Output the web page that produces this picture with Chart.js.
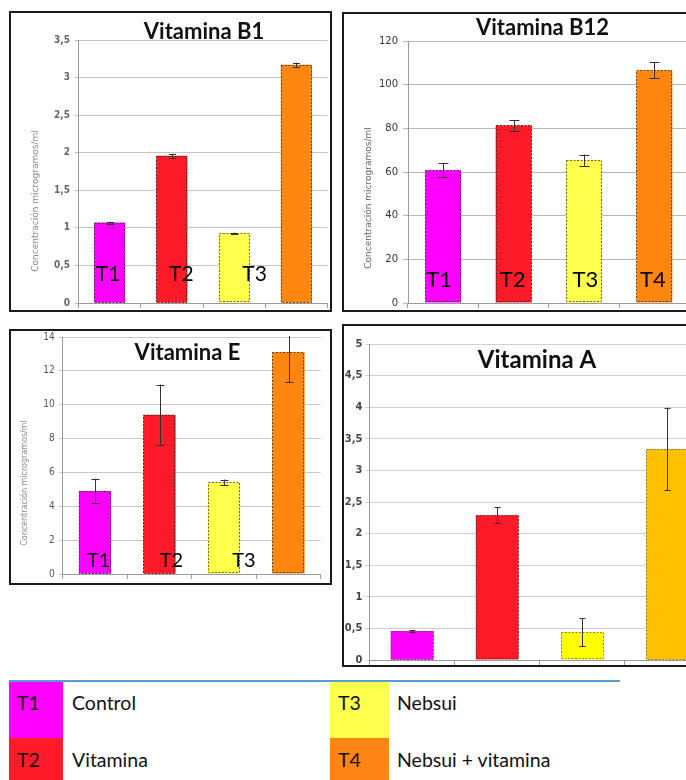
<!DOCTYPE html>
<html>
<head>
<meta charset="utf-8">
<title>Vitaminas por tratamiento</title>
<script src="https://cdn.jsdelivr.net/npm/chart.js@4.4.1/dist/chart.umd.min.js"></script>
<style>
  html, body { margin: 0; padding: 0; background: #fff; }
  #page { position: relative; width: 686px; height: 780px; overflow: hidden; background: #fff;
          font-family: Lato, "Open Sans", "Noto Sans", sans-serif; color: #111; }
  .panel { position: absolute; box-sizing: border-box; border: 2px solid #1a1a1a; background: #fff; }
  .panel canvas { position: absolute; left: 0; top: 0; }
  #p-b1  { left: 9px;   top: 11px;  width: 323px; height: 301px; }
  #p-b12 { left: 342px; top: 12px;  width: 360px; height: 300px; }
  #p-e   { left: 9px;   top: 329px; width: 323px; height: 256px; }
  #p-a   { left: 342px; top: 324px; width: 380px; height: 343px; }
  .rule { position: absolute; left: 9px; top: 680px; width: 611px; height: 2px; background: #5b9bd5; }
  .swatch { position: absolute; width: 54px; height: 56px; }
  .swatch.wide { width: 59px; }
  .lg-text { position: absolute; font-size: 19.5px; line-height: 22px; white-space: nowrap; color: #111; }
</style>
</head>
<body>
<div id="page">
  <div class="panel" id="p-b1"><canvas id="c-b1" width="319" height="297"></canvas></div>
  <div class="panel" id="p-b12"><canvas id="c-b12" width="350" height="296"></canvas></div>
  <div class="panel" id="p-e"><canvas id="c-e" width="319" height="252"></canvas></div>
  <div class="panel" id="p-a"><canvas id="c-a" width="370" height="339"></canvas></div>
  <div id="legend"></div>
</div>
<script>
// Treatments and their descriptions
const treatments = ['T1', 'T2', 'T3', 'T4'];
const treatmentNames = ['Control', 'Vitamina', 'Nebsui', 'Nebsui + vitamina'];

// Mean concentrations (microgramos/ml) and their error margins
const b1Values  = [1.07, 1.96, 0.93, 3.17];
const b1Errors  = [0.013, 0.027, 0.008, 0.03];
const b12Values = [60.8, 81.3, 65.4, 106.6];
const b12Errors = [3.2, 2.3, 2.6, 3.7];
const eValues   = [4.91, 9.41, 5.42, 13.1];
const eErrors   = [0.72, 1.78, 0.16, 1.78];
const aValues   = [0.46, 2.29, 0.44, 3.34];
const aErrors   = [0.018, 0.125, 0.225, 0.655];

// Axis tick labels (decimal comma)
const b1Ticks  = ['0', '0,5', '1', '1,5', '2', '2,5', '3', '3,5'];
const b12Ticks = ['0', '20', '40', '60', '80', '100', '120'];
const eTicks   = ['0', '2', '4', '6', '8', '10', '12', '14'];
const aTicks   = ['0', '0,5', '1', '1,5', '2', '2,5', '3', '3,5', '4', '4,5', '5'];

// Treatment colours
const treatColors  = ['#ff00ff', '#ff1a2a', '#ffff4d', '#ff860f'];
const aColors      = ['#ff00ff', '#ff1a2a', '#ffff00', '#ffc000'];
const legendColors = ['#ff00ff', '#ff1c28', '#ffff4d', '#ff8514'];

const yTitleText = 'Concentración microgramos/ml';

// Dashed bar outlines, error bars and the texts drawn over each panel
const panelDecor = {
  id: 'panelDecor',
  afterDatasetsDraw(chart, args, o) {
    const ctx = chart.ctx;
    const meta = chart.getDatasetMeta(0);
    const ys = chart.scales.y;
    const area = chart.chartArea;
    const vals = chart.data.datasets[0].data;
    ctx.save();
    ctx.lineWidth = 1;
    ctx.setLineDash([2, 1.5]);
    meta.data.forEach((bar, i) => {
      const p = bar.getProps(['x', 'y', 'base', 'width'], true);
      ctx.strokeStyle = o.outline[i];
      const l = Math.round(p.x - p.width / 2) + 0.5;
      const t = Math.round(p.y) + 0.5;
      ctx.strokeRect(l, t, Math.round(p.width) - 1, Math.round(p.base - p.y) - 1);
    });
    ctx.setLineDash([]);
    ctx.beginPath();
    ctx.rect(area.left, area.top - 1, area.width, area.height + 1);
    ctx.clip();
    ctx.strokeStyle = o.errColor;
    meta.data.forEach((bar, i) => {
      const v = vals[i], e = o.errors[i];
      const hi = ys.getPixelForValue(v + e);
      const lo = ys.getPixelForValue(v - e);
      const x = Math.round(bar.x) + 0.5;
      const c = o.cap / 2;
      ctx.beginPath();
      ctx.moveTo(x, hi);
      ctx.lineTo(x, lo);
      if (hi >= area.top) {
        const yh = Math.round(hi) + 0.5;
        ctx.moveTo(x - c, yh); ctx.lineTo(x + c, yh);
      }
      const yl = Math.round(lo) + 0.5;
      ctx.moveTo(x - c, yl); ctx.lineTo(x + c, yl);
      ctx.stroke();
    });
    ctx.restore();
  },
  afterDraw(chart, args, o) {
    const ctx = chart.ctx;
    const xs = chart.scales.x, ys = chart.scales.y;
    ctx.save();
    // panel title
    ctx.fillStyle = '#111';
    ctx.textAlign = 'center';
    ctx.textBaseline = 'alphabetic';
    ctx.font = o.title.font;
    ctx.fillText(o.title.text, o.title.x, o.title.y);
    // vertical axis title
    if (o.yTitle) {
      ctx.save();
      ctx.translate(o.yTitle.x, o.yTitle.y);
      ctx.rotate(-Math.PI / 2);
      ctx.font = o.yTitle.font;
      ctx.fillStyle = o.yTitle.color;
      ctx.textBaseline = 'middle';
      ctx.fillText(yTitleText, 0, 0);
      ctx.restore();
    }
    // treatment tags on the bars
    if (o.tags) {
      ctx.font = o.tags.font;
      ctx.fillStyle = '#000';
      ctx.textAlign = 'center';
      ctx.textBaseline = 'alphabetic';
      o.tags.dx.forEach((dx, i) => {
        ctx.fillText(treatments[i], xs.getPixelForValue(i) + dx, ys.getPixelForValue(o.tags.at));
      });
    }
    ctx.restore();
  }
};

// Scales keep the exact box they are given; label overhang needs no extra room
function fixBox(sc, w, h) {
  if (w !== null) sc.width = w;
  if (h !== null) sc.height = h;
  sc.paddingTop = 0; sc.paddingBottom = 0;
  sc.paddingLeft = 0; sc.paddingRight = 0;
}

function makePanel(id, s) {
  return new Chart(document.getElementById(id), {
    type: 'bar',
    data: {
      labels: treatments,
      datasets: [{
        data: s.values,
        backgroundColor: s.colors,
        borderWidth: 0,
        barPercentage: s.barPct,
        categoryPercentage: 1
      }]
    },
    options: {
      responsive: false,
      animation: false,
      events: [],
      layout: { padding: { top: s.padTop, right: s.padRight, left: 0, bottom: 0 } },
      plugins: {
        legend: { display: false },
        tooltip: { enabled: false },
        title: { display: false },
        panelDecor: {
          errors: s.errors, cap: s.cap, errColor: '#333',
          outline: s.outline,
          title: s.title, yTitle: s.yTitle, tags: s.tags
        }
      },
      scales: {
        x: {
          ticks: { display: false },
          grid: { offset: true, drawOnChartArea: false, tickLength: 5, color: '#9a9a9a' },
          border: { color: '#9a9a9a' },
          afterFit: sc => fixBox(sc, null, s.xHeight)
        },
        y: {
          min: 0, max: s.max,
          ticks: {
            stepSize: s.step, autoSkip: false,
            callback: v => s.tickLabels[Math.round(v / s.step)],
            font: s.tickFont, color: s.tickColor, padding: s.tickPad
          },
          grid: { color: s.gridColor, tickLength: s.tickLen, lineWidth: 1 },
          border: { color: '#9a9a9a' },
          afterFit: sc => fixBox(sc, s.axisWidth, null)
        }
      }
    },
    plugins: [panelDecor]
  });
}

const darkOutline = ['#5a2a5a', '#6a2020', '#6a6a20', '#6a4010'];

makePanel('c-b1', {
  values: b1Values, errors: b1Errors, colors: treatColors, outline: darkOutline,
  max: 3.5, step: 0.5, tickLabels: b1Ticks, barPct: 0.5, cap: 7,
  padTop: 27, padRight: 2.5, xHeight: 7, axisWidth: 67.5,
  tickFont: { family: "'DejaVu Sans Condensed', 'DejaVu Sans'", size: 10, weight: 'bold' },
  tickColor: '#666', tickPad: 4.5, tickLen: 4, gridColor: '#c4c4c4',
  title: { text: 'Vitamina B1', x: 193, y: 26, font: "bold 22px Lato, 'Open Sans', sans-serif" },
  yTitle: { x: 25, y: 188, font: "9px 'DejaVu Sans', sans-serif", color: '#8a8a8a' },
  tags: { at: 0.293, dx: [-1.5, 9.5, 20.5], font: "21px Lato, 'Open Sans', sans-serif" }
});

makePanel('c-b12', {
  values: b12Values, errors: b12Errors, colors: treatColors, outline: darkOutline,
  max: 120, step: 20, tickLabels: b12Ticks, barPct: 0.51, cap: 10,
  padTop: 27, padRight: 4.4, xHeight: 7, axisWidth: 64,
  tickFont: { family: "'DejaVu Sans', sans-serif", size: 10 },
  tickColor: '#333', tickPad: 5, tickLen: 5, gridColor: '#b8b8b8',
  title: { text: 'Vitamina B12', x: 198.5, y: 21, font: "bold 22px Lato, 'Open Sans', sans-serif" },
  yTitle: { x: 25, y: 184, font: "9px 'DejaVu Sans', sans-serif", color: '#666' },
  tags: { at: 7.33, dx: [-4, -1, 1.5, -1.5], font: "22px Lato, 'Open Sans', sans-serif" }
});

makePanel('c-e', {
  values: eValues, errors: eErrors, colors: treatColors, outline: darkOutline,
  max: 14, step: 2, tickLabels: eTicks, barPct: 0.5, cap: 8,
  padTop: 6, padRight: 9.25, xHeight: 9, axisWidth: 51.75,
  tickFont: { family: "'DejaVu Sans Condensed', 'DejaVu Sans'", size: 10 },
  tickColor: '#555', tickPad: 4, tickLen: 4, gridColor: '#c8c8c8',
  title: { text: 'Vitamina E', x: 176.5, y: 29, font: "bold 22px Lato, 'Open Sans', sans-serif" },
  yTitle: { x: 14, y: 152, font: "8px 'DejaVu Sans', sans-serif", color: '#8a8a8a' },
  tags: { at: 0.40, dx: [3.7, 12, 20], font: "20px Lato, 'Open Sans', sans-serif" }
});

makePanel('c-a', {
  values: aValues, errors: aErrors, colors: aColors, outline: ['#7a3a7a', '#7a2a2a', '#8a8a3a', '#9a7a3a'],
  max: 5, step: 0.5, tickLabels: aTicks, barPct: 0.5, cap: 6,
  padTop: 18, padRight: 4, xHeight: 5, axisWidth: 25.4,
  tickFont: { family: "'DejaVu Sans Condensed', 'DejaVu Sans'", size: 11, weight: 'bold' },
  tickColor: '#444', tickPad: 3, tickLen: 4, gridColor: '#d0d0d0',
  title: { text: 'Vitamina A', x: 193, y: 42, font: "bold 24px Lato, 'Open Sans', sans-serif" },
  yTitle: null, tags: null
});

// Colour key below the panels
(function buildLegend() {
  const host = document.getElementById('legend');
  const rule = document.createElement('div');
  rule.className = 'rule';
  host.appendChild(rule);
  const cells = [
    { left: 9,   top: 682, textTop: 691.5, tagLeft: 17,  textLeft: 72,  wide: false },
    { left: 9,   top: 738, textTop: 748.5, tagLeft: 17,  textLeft: 72,  wide: false },
    { left: 330, top: 682, textTop: 691.5, tagLeft: 338, textLeft: 397, wide: true },
    { left: 330, top: 738, textTop: 748.5, tagLeft: 338, textLeft: 397, wide: true }
  ];
  treatments.forEach((t, i) => {
    const c = cells[i];
    const sw = document.createElement('div');
    sw.className = 'swatch' + (c.wide ? ' wide' : '');
    sw.style.left = c.left + 'px';
    sw.style.top = c.top + 'px';
    sw.style.background = legendColors[i];
    host.appendChild(sw);
    const tag = document.createElement('div');
    tag.className = 'lg-text';
    tag.style.left = c.tagLeft + 'px';
    tag.style.top = c.textTop + 'px';
    tag.textContent = t;
    host.appendChild(tag);
    const name = document.createElement('div');
    name.className = 'lg-text';
    name.style.left = c.textLeft + 'px';
    name.style.top = c.textTop + 'px';
    name.textContent = treatmentNames[i];
    host.appendChild(name);
  });
})();
</script>
</body>
</html>
